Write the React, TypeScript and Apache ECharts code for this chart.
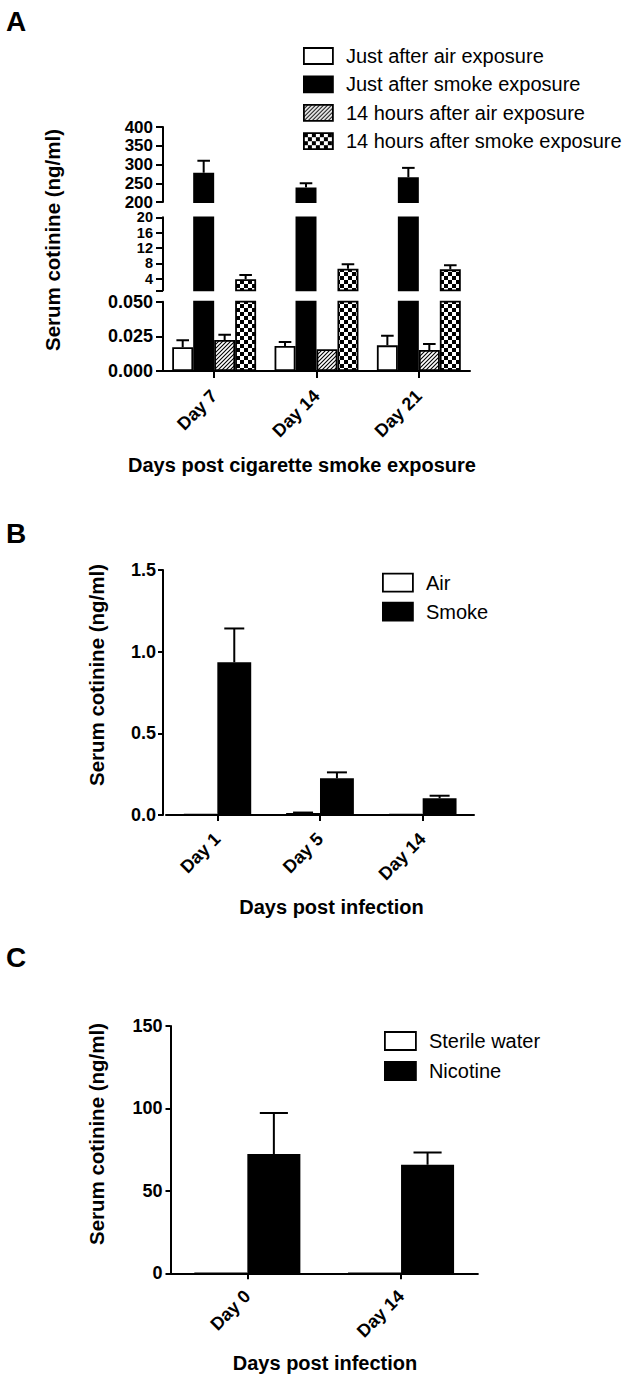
import React, { useEffect, useRef } from 'react';
import * as echarts from 'echarts';

// ---------- DATA ----------
// Panel A
const daysA = ['Day 7', 'Day 14', 'Day 21'];
const namesA = [
  'Just after air exposure',
  'Just after smoke exposure',
  '14 hours after air exposure',
  '14 hours after smoke exposure',
];
const justAirMean = [0.0171, 0.018, 0.0185];
const justAirErr = [0.005, 0.003, 0.007];
const justSmokeMean = [278, 239, 266];
const justSmokeErr = [32, 11, 25];
const h14AirMean = [0.0224, 0.0157, 0.0152];
const h14AirErr = [0.0038, 0, 0.0043];
const h14SmokeMean = [3.9, 6.6, 6.45];
const h14SmokeErr = [1.05, 1.15, 1.05];
const ticksAMid = [4, 8, 12, 16, 20];

// Panel B
const daysB = ['Day 1', 'Day 5', 'Day 14'];
const namesB = ['Air', 'Smoke'];
const airBMean = [0.005, 0.012, 0.004];
const airBErr = [0, 0.003, 0];
const smokeBMean = [0.935, 0.225, 0.102];
const smokeBErr = [0.207, 0.036, 0.016];

// Panel C
const daysC = ['Day 0', 'Day 14'];
const namesC = ['Sterile water', 'Nicotine'];
const waterCMean = [0, 0];
const waterCErr = [0, 0];
const nicotineCMean = [72.3, 65.8];
const nicotineCErr = [24.9, 7.5];

// ---------- STYLE ----------
const FONT = "'Liberation Sans', Arial, Helvetica, sans-serif";
const BLACK = '#000';

function makeHatch(): string {
  const c = document.createElement('canvas');
  c.width = 4;
  c.height = 4;
  const g = c.getContext('2d')!;
  g.fillStyle = '#fff';
  g.fillRect(0, 0, 4, 4);
  g.strokeStyle = '#000';
  g.lineWidth = 1.1;
  g.beginPath();
  g.moveTo(-1, 5);
  g.lineTo(5, -1);
  g.moveTo(-1, 1);
  g.lineTo(1, -1);
  g.moveTo(3, 5);
  g.lineTo(5, 3);
  g.stroke();
  return c.toDataURL();
}

function makeChecker(): string {
  const c = document.createElement('canvas');
  c.width = 8;
  c.height = 8;
  const g = c.getContext('2d')!;
  g.fillStyle = '#fff';
  g.fillRect(0, 0, 8, 8);
  g.fillStyle = '#000';
  g.fillRect(0, 0, 4, 4);
  g.fillRect(4, 4, 4, 4);
  return c.toDataURL();
}

function buildOption() {
  const hatch = { image: makeHatch(), repeat: 'repeat', imageWidth: 4, imageHeight: 4 };
  const checker = { image: makeChecker(), repeat: 'repeat', imageWidth: 8, imageHeight: 8 };

  const axisLine = { show: true, lineStyle: { color: BLACK, width: 2 } };
  const tickStyle = { color: BLACK, width: 2 };
  const labelBase = {
    color: BLACK,
    fontSize: 18,
    fontWeight: 'bold',
    fontFamily: FONT,
    hideOverlap: false,
    showMinLabel: true,
    showMaxLabel: true,
  };

  const grid: any[] = [];
  const xAxis: any[] = [];
  const yAxis: any[] = [];
  const series: any[] = [];

  // error bar custom series factory
  const errSeries = (
    axisIdx: number,
    idx: number,
    nBars: number,
    gapFrac: number,
    capFrac: number,
    data: any[]
  ) => ({
    type: 'custom',
    xAxisIndex: axisIdx,
    yAxisIndex: axisIdx,
    clip: true,
    z: 5,
    encode: { x: 0, y: 1 },
    data,
    renderItem: (params: any, api: any) => {
      const cat = api.value(0);
      const mean = api.value(1);
      const err = api.value(2);
      const base = api.coord([cat, mean]);
      const top = api.coord([cat, mean + err]);
      const band = api.size([1, 0])[0];
      const total = band * (1 - gapFrac);
      const bw = total / nBars;
      const cx = base[0] - total / 2 + (idx + 0.5) * bw;
      const half = (bw * capFrac) / 2;
      const st = { stroke: BLACK, lineWidth: 2 };
      return {
        type: 'group',
        children: [
          { type: 'line', shape: { x1: cx, y1: base[1], x2: cx, y2: top[1] }, style: st },
          { type: 'line', shape: { x1: cx - half, y1: top[1], x2: cx + half, y2: top[1] }, style: st },
        ],
      };
    },
  });

  // ---------- Panel A (three broken segments) ----------
  const A_LEFT = 163;
  const A_WIDTH = 307;
  const A_GAP = 0.18;
  const segs = [
    { min: 200, max: 400, interval: 50, top: 127, height: 75 },
    { min: 1, max: 20, custom: true, top: 217.3, height: 73 },
    { min: 0, max: 0.05, interval: 0.025, top: 301.7, height: 69.3 },
  ];
  const meansA = [justAirMean, justSmokeMean, h14AirMean, h14SmokeMean];
  const errsA = [justAirErr, justSmokeErr, h14AirErr, h14SmokeErr];
  const fillsA: any[] = ['#fff', BLACK, hatch, checker];

  segs.forEach((s, si) => {
    grid.push({ left: A_LEFT, width: A_WIDTH, top: s.top, height: s.height });
    const isBottom = si === segs.length - 1;
    xAxis.push({
      gridIndex: si,
      type: 'category',
      data: daysA,
      show: isBottom,
      axisLine: axisLine,
      axisTick: { show: true, alignWithLabel: true, length: 7, lineStyle: tickStyle },
      axisLabel: { ...labelBase, rotate: 45, margin: 22, interval: 0 },
    });
    const y: any = {
      gridIndex: si,
      type: 'value',
      min: s.min,
      max: s.max,
      axisLine: axisLine,
      axisTick: { show: true, length: 7, lineStyle: tickStyle },
      axisLabel: { ...labelBase, margin: 10 },
      splitLine: { show: false },
    };
    if (si === 0) {
      y.axisLabel.fontSize = 17;
      y.axisLabel.lineHeight = 16;
    }
    if (s.custom) {
      y.axisTick.customValues = [s.min, ...ticksAMid];
      y.axisLabel.customValues = ticksAMid;
      y.axisLabel.fontSize = 14.5;
      y.axisLabel.lineHeight = 13;
    } else {
      y.interval = s.interval;
    }
    if (isBottom) y.axisLabel.formatter = (v: number) => v.toFixed(3);
    yAxis.push(y);

    meansA.forEach((means, k) => {
      series.push({
        type: 'bar',
        name: namesA[k],
        xAxisIndex: si,
        yAxisIndex: si,
        barGap: '0%',
        barCategoryGap: A_GAP * 100 + '%',
        clip: true,
        itemStyle: { color: fillsA[k], borderColor: BLACK, borderWidth: 1.8 },
        data: means.map((v) => (v >= s.min ? v : '-')),
      });
    });
    meansA.forEach((means, k) => {
      const d = means
        .map((v, i) => [i, v, errsA[k][i]])
        .filter((p) => p[1] >= s.min && p[1] <= s.max && p[2] > 0);
      if (d.length) series.push(errSeries(si, k, 4, A_GAP, 0.6, d));
    });
  });

  // ---------- Panel B ----------
  const B_GAP = 0.34;
  const bi = grid.length;
  grid.push({ left: 166, width: 308, top: 570, height: 245 });
  xAxis.push({
    gridIndex: bi,
    type: 'category',
    data: daysB,
    axisLine: axisLine,
    axisTick: { show: true, alignWithLabel: true, length: 6, lineStyle: tickStyle },
    axisLabel: { ...labelBase, rotate: 45, margin: 21, interval: 0 },
  });
  yAxis.push({
    gridIndex: bi,
    type: 'value',
    min: 0,
    max: 1.5,
    interval: 0.5,
    offset: 3,
    axisLine: axisLine,
    axisTick: { show: true, length: 5, lineStyle: tickStyle },
    axisLabel: { ...labelBase, margin: 7, formatter: (v: number) => v.toFixed(1) },
    splitLine: { show: false },
  });
  const meansB = [airBMean, smokeBMean];
  const errsB = [airBErr, smokeBErr];
  const fillsB = ['#fff', BLACK];
  meansB.forEach((means, k) => {
    series.push({
      type: 'bar',
      name: namesB[k],
      xAxisIndex: bi,
      yAxisIndex: bi,
      barGap: '0%',
      barCategoryGap: B_GAP * 100 + '%',
      itemStyle: { color: fillsB[k], borderColor: BLACK, borderWidth: 1.8 },
      data: means,
    });
  });
  meansB.forEach((means, k) => {
    const d = means.map((v, i) => [i, v, errsB[k][i]]).filter((p) => p[2] > 0);
    if (d.length) series.push(errSeries(bi, k, 2, B_GAP, 0.59, d));
  });

  // ---------- Panel C ----------
  const C_GAP = 0.31;
  const ci = grid.length;
  grid.push({ left: 170.5, width: 307.4, top: 1026, height: 247.3 });
  xAxis.push({
    gridIndex: ci,
    type: 'category',
    data: daysC,
    axisLine: axisLine,
    axisTick: { show: true, alignWithLabel: true, length: 6, lineStyle: tickStyle },
    axisLabel: { ...labelBase, rotate: 45, margin: 20, interval: 0 },
  });
  yAxis.push({
    gridIndex: ci,
    type: 'value',
    min: 0,
    max: 150,
    interval: 50,
    axisLine: axisLine,
    axisTick: { show: true, length: 5, lineStyle: tickStyle },
    axisLabel: { ...labelBase, margin: 8 },
    splitLine: { show: false },
  });
  const meansC = [waterCMean, nicotineCMean];
  const errsC = [waterCErr, nicotineCErr];
  const fillsC = ['#fff', BLACK];
  meansC.forEach((means, k) => {
    series.push({
      type: 'bar',
      name: namesC[k],
      xAxisIndex: ci,
      yAxisIndex: ci,
      barGap: '0%',
      barCategoryGap: C_GAP * 100 + '%',
      itemStyle: { color: fillsC[k], borderColor: BLACK, borderWidth: 1.8 },
      data: means,
    });
  });
  meansC.forEach((means, k) => {
    const d = means.map((v, i) => [i, v, errsC[k][i]]).filter((p) => p[2] > 0);
    if (d.length) series.push(errSeries(ci, k, 2, C_GAP, 0.53, d));
  });

  // ---------- Legends ----------
  const legendText = {
    color: BLACK,
    fontSize: 20,
    fontFamily: FONT,
    lineHeight: 20,
    padding: [0, 0, 0, 8],
  };
  const legendBase = {
    orient: 'vertical',
    icon: 'rect',
    selectedMode: false,
    itemStyle: { borderColor: BLACK, borderWidth: 1.8 },
    textStyle: legendText,
    padding: 0,
  };
  const legend = [
    { ...legendBase, data: namesA, left: 303, top: 46, itemWidth: 29, itemHeight: 16, itemGap: 8.4 },
    { ...legendBase, data: namesB, left: 382, top: 572.7, itemWidth: 30, itemHeight: 18, itemGap: 9 },
    { ...legendBase, data: namesC, left: 384, top: 1031, itemWidth: 31, itemHeight: 18, itemGap: 10 },
  ];

  // ---------- Titles / panel letters ----------
  const txt = (text: string, x: number, y: number, size: number, rotation = 0, align = 'center') => ({
    type: 'text',
    x,
    y,
    rotation,
    style: {
      text,
      fill: BLACK,
      fontSize: size,
      fontWeight: 'bold',
      fontFamily: FONT,
      align,
      verticalAlign: 'middle',
      textAlign: align,
      textVerticalAlign: 'middle',
    },
  });
  const graphic = [
    txt('A', 6, 21, 28, 0, 'left'),
    txt('B', 6, 533, 28, 0, 'left'),
    txt('C', 6, 957, 28, 0, 'left'),
    txt('Serum cotinine (ng/ml)', 52, 240, 20.5, Math.PI / 2),
    txt('Serum cotinine (ng/ml)', 96, 675, 20.5, Math.PI / 2),
    txt('Serum cotinine (ng/ml)', 96, 1134, 20.5, Math.PI / 2),
    txt('Days post cigarette smoke exposure', 302, 465, 20),
    txt('Days post infection', 331.5, 907, 20),
    txt('Days post infection', 325, 1363, 20),
  ];

  return {
    animation: false,
    backgroundColor: '#fff',
    grid,
    xAxis,
    yAxis,
    series,
    legend,
    graphic,
  };
}

export default function App() {
  const ref = useRef<HTMLDivElement>(null);
  useEffect(() => {
    document.body.style.margin = '0';
    const chart = echarts.init(ref.current!, null, { renderer: 'svg' });
    chart.setOption(buildOption() as any);
    return () => chart.dispose();
  }, []);
  return <div ref={ref} style={{ width: 629, height: 1381 }} />;
}
